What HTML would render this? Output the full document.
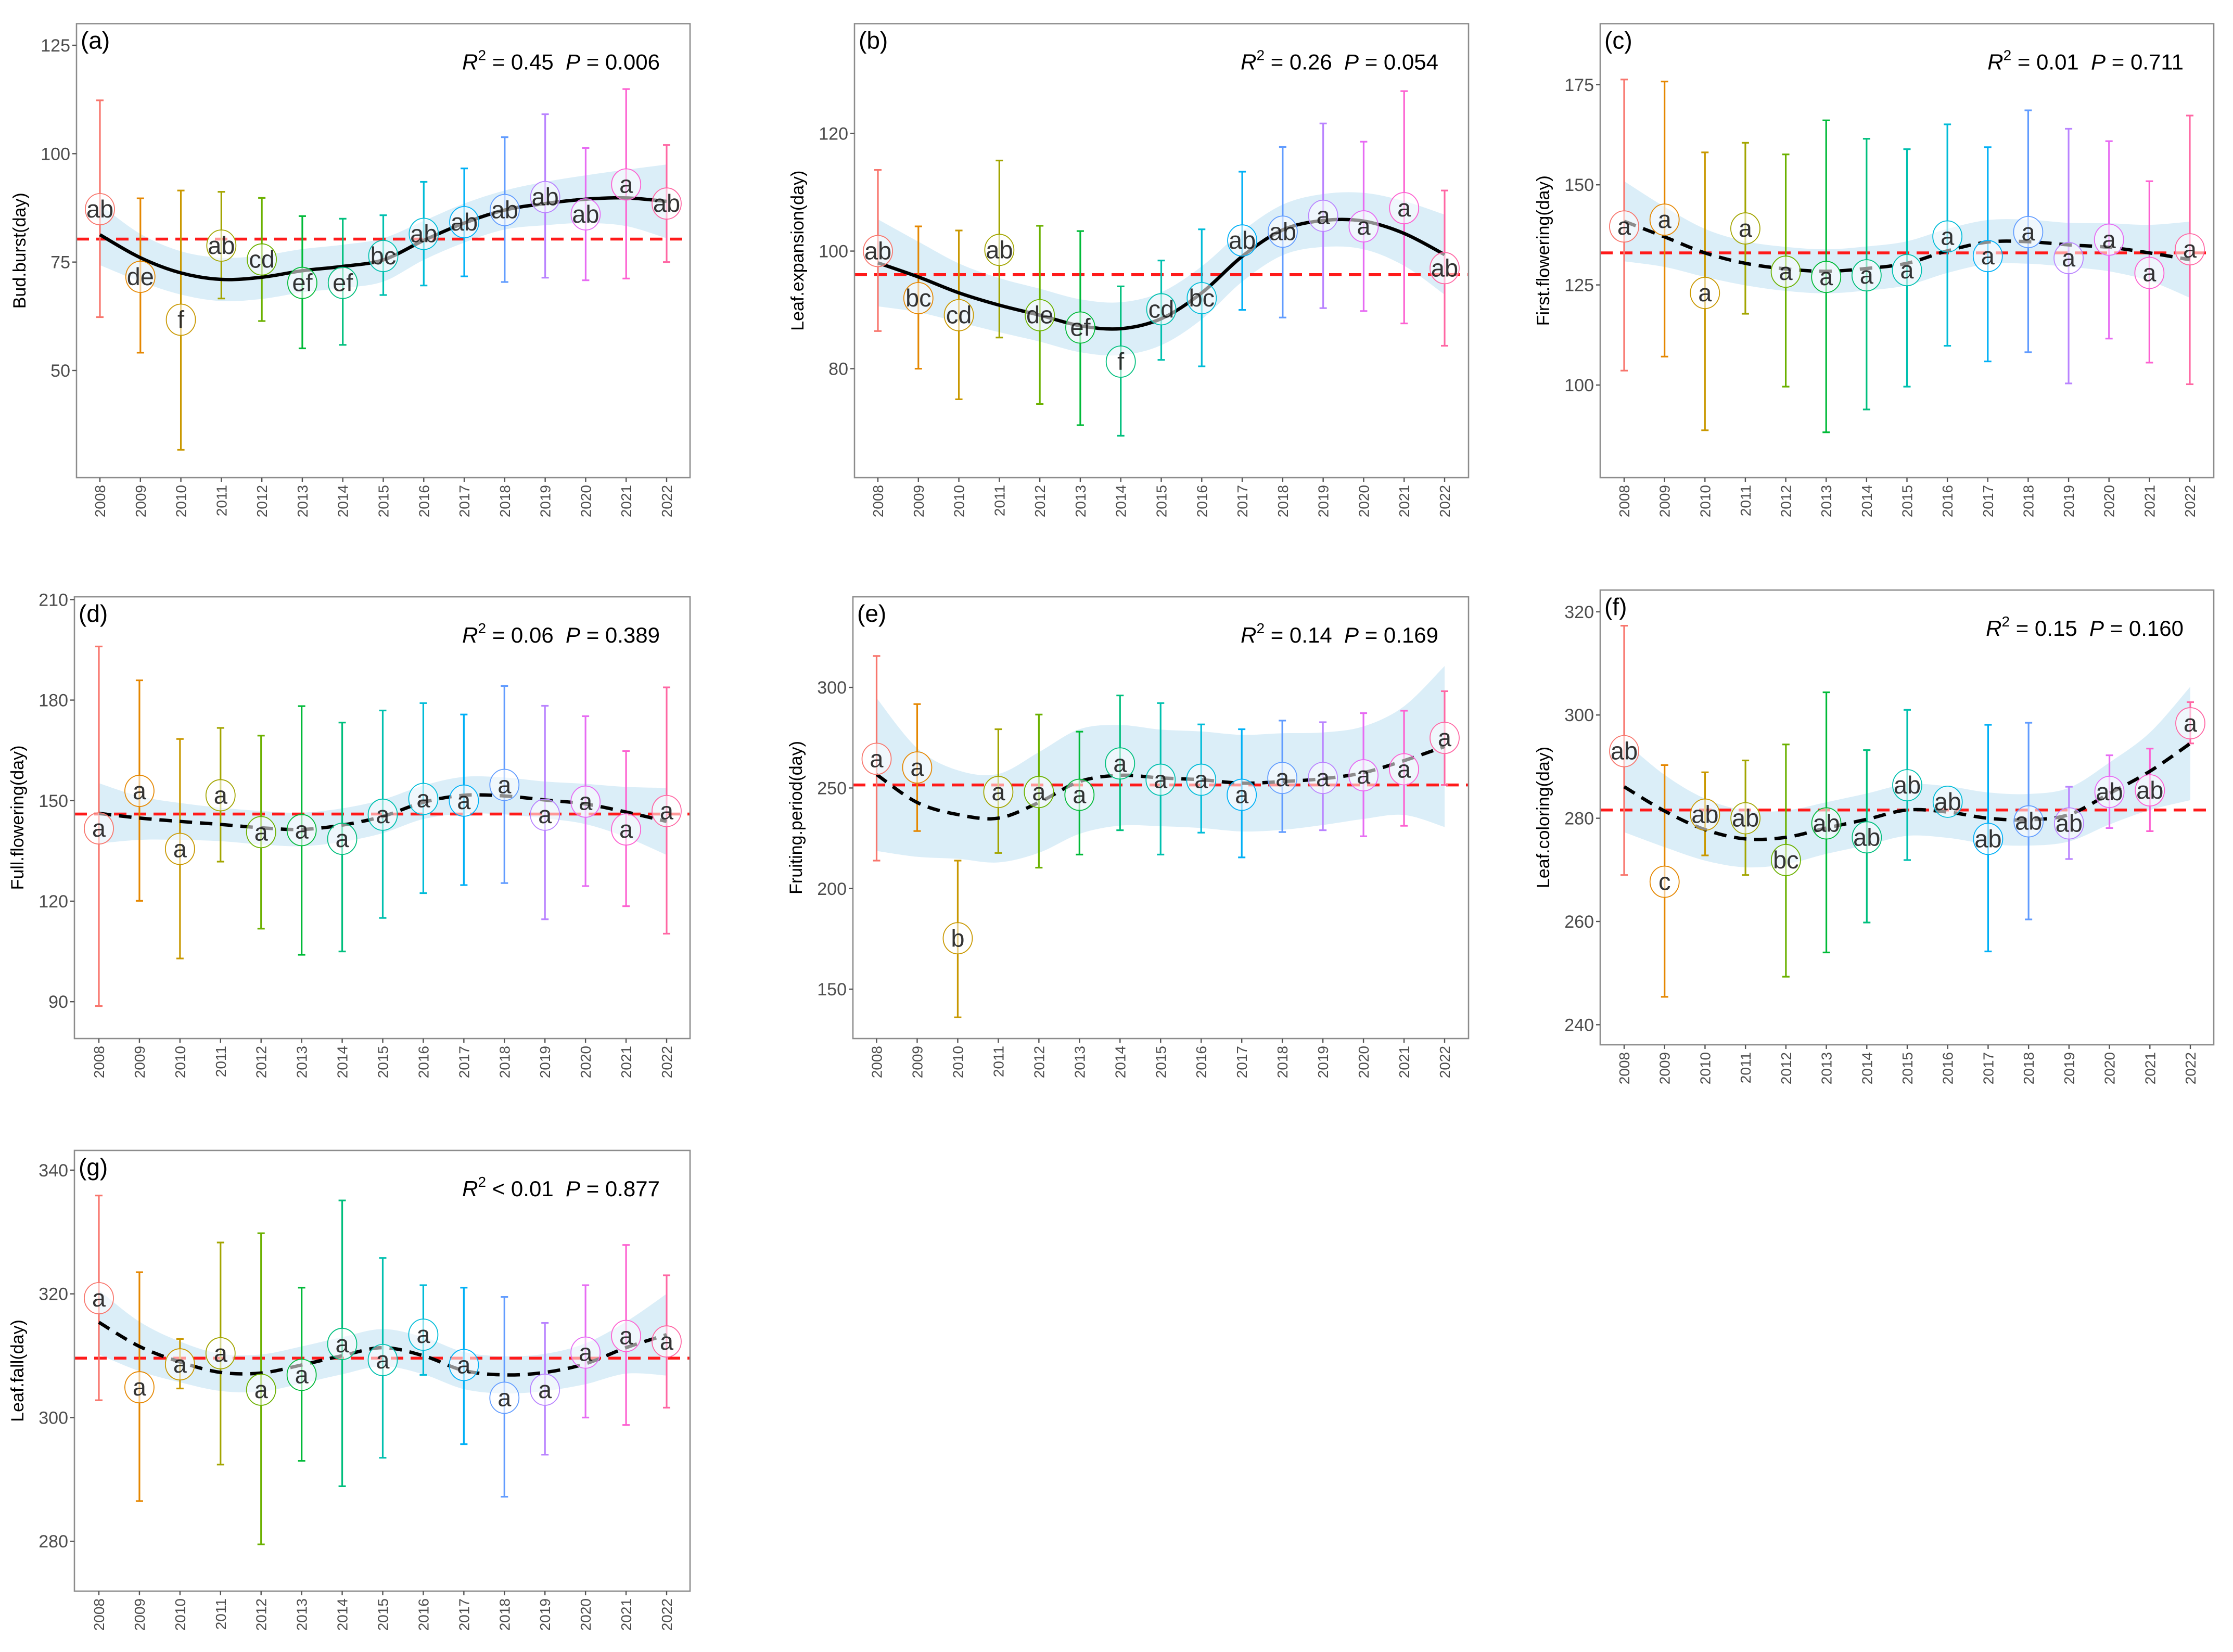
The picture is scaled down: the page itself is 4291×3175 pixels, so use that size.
<!DOCTYPE html>
<html><head><meta charset="utf-8"><style>
html,body{margin:0;padding:0;background:#fff;}
svg{display:block;}
text{font-family:"Liberation Sans",Arial,sans-serif;}
</style></head><body>
<svg id="fig" xmlns="http://www.w3.org/2000/svg" width="4291" height="3175" viewBox="0 0 4291 3175"></svg>
<script>
const years = ["2008","2009","2010","2011","2012","2013","2014","2015","2016","2017","2018","2019","2020","2021","2022"];
const yearColors = ["#F8766D","#E58700","#C99800","#A3A500","#6BB100","#00BA38","#00BF7D","#00C0AF","#00BCD8","#00B0F6","#619CFF","#B983FF","#E76BF3","#FD61D1","#FF67A4"];

// (a) Bud burst
const aMean = [87.2,71.6,61.7,78.8,75.6,70.2,70.2,76.4,81.5,84.2,87,90,86,92.9,88.5];
const aUp = [112.3,89.7,91.5,91.2,89.8,85.6,85,85.8,93.5,96.6,103.8,109.1,101.3,114.9,102];
const aLo = [62.3,54.1,31.7,66.6,61.4,55.1,55.9,67.4,69.6,71.7,70.4,71.4,70.8,71.2,75];
const aFit = [81.3,76,72.5,71,71.5,73,74,75.5,80,84,87,88.5,89.5,89.8,89];
const aBand = [7,5.5,5,5,5,5,5,5,4.5,4.5,4.5,5,5.5,6.5,8.5];
const aLetters = ["ab","de","f","ab","cd","ef","ef","bc","ab","ab","ab","ab","ab","a","ab"];
const aMeanLine = 80.3;
const aTicks = [50,75,100,125];

// (b) Leaf expansion
const bMean = [100,92,89.1,100.2,89.1,87,81.2,90.1,92,101.8,103.3,106,104.2,107.3,97.1];
const bUp = [113.8,104.2,103.5,115.4,104.3,103.4,94,98.4,103.7,113.5,117.7,121.7,118.6,127.2,110.3];
const bLo = [86.4,80,74.8,85.3,74,70.4,68.6,81.5,80.4,90,88.7,90.3,89.8,87.7,83.9];
const bFit = [98,95.6,92.9,90.8,89.1,87.3,86.8,88.5,92.9,99.1,103.6,105.2,105.1,103,99.4];
const bBand = [7.4,6,5,4.6,4.5,4.5,4.5,4.5,4.5,4.3,4.3,4.5,4.8,5.5,6.8];
const bLetters = ["ab","bc","cd","ab","de","ef","f","cd","bc","ab","ab","a","a","a","ab"];
const bMeanLine = 96;
const bTicks = [80,100,120];

// (c) First flowering
const cMean = [139.6,141.3,123,139.1,128.3,127,127.4,128.7,137.1,132.2,138.2,131.7,136.3,128,133.9];
const cUp = [176.3,175.8,158.1,160.5,157.6,166.1,161.5,158.9,165.1,159.4,168.6,164,160.9,150.9,167.3];
const cLo = [103.6,107.1,88.7,117.8,99.6,88.2,93.9,99.6,109.8,105.9,108.2,100.4,111.6,105.6,100.2];
const cFit = [140.9,137,133,130.4,129,128.4,129.1,130.4,133.5,135.7,135.8,135,134.4,133,131.3];
const cBand = [10,7.5,6,5.5,5.5,5.5,5.5,5.5,5.5,5.5,5.5,5.5,6,7,9.5];
const cLetters = ["a","a","a","a","a","a","a","a","a","a","a","a","a","a","a"];
const cMeanLine = 133;
const cTicks = [100,125,150,175];

// (d) Full flowering
const dMean = [141.7,152.9,135.6,151.6,140.6,141.2,138.6,145.8,150.5,150,154.7,145.8,149.7,141.4,146.9];
const dUp = [196,185.9,168.4,171.7,169.4,178.2,173.3,176.9,179.1,175.7,184.2,178.3,175.2,164.8,183.8];
const dLo = [88.7,120.1,102.9,131.8,111.8,104,105,115,122.4,124.8,125.4,114.6,124.5,118.5,110.3];
const dFit = [146.2,144.8,143.8,142.9,141.9,141.4,142.7,145.3,149.5,151.6,151.4,150.2,149,146.6,143.8];
const dBand = [9,6.5,5.5,5,5,5,5,5,5,5.5,5.5,5.5,6,7.5,10];
const dLetters = ["a","a","a","a","a","a","a","a","a","a","a","a","a","a","a"];
const dMeanLine = 146;
const dTicks = [90,120,150,180,210];

// (e) Fruiting period
const eMean = [264.5,260.2,175.3,248,248,246.6,262.2,254.1,254.1,246.6,255,255,256.3,259.3,274.9];
const eUp = [315.6,291.7,213.9,279.2,286.5,278,296,292.2,281.6,279.2,283.5,282.7,287.2,288.4,298.1];
const eLo = [213.9,228.6,136,217.7,210.4,216.9,229,216.9,227.8,215.5,228.1,229,226,231.2,251.5];
const eFit = [256.7,242.8,236.8,235,242.8,253.2,256.3,255,254.1,252.4,253.2,254.6,257.6,263.6,270.6];
const eBand = [38,27,22,22,25,26,25,24,24,24,24,23,23,27,40];
const eLetters = ["a","a","b","a","a","a","a","a","a","a","a","a","a","a","a"];
const eMeanLine = 251.5;
const eTicks = [150,200,250,300];

// (f) Leaf coloring
const fMean = [293,267.7,280.7,280,271.9,279,276.3,286.4,283.2,276,279.4,279,285.1,285.4,298.4];
const fUp = [317.3,290.3,288.9,291.2,294.3,304.4,293.2,301,283.2,298.1,298.5,286.1,292.2,293.5,302.5];
const fLo = [269,245.4,272.8,269,249.3,254,259.8,271.9,283.2,254.2,260.4,272.1,278.1,277.5,294.5];
const fFit = [286.1,281.4,277.8,276,276.3,278.1,279.8,281.6,281.2,280,279.7,280.7,284.8,289.1,294.5];
const fBand = [8.8,7,6,5.5,5.2,5,5,5,5,5,5,5.2,6,7.5,11];
const fLetters = ["ab","c","ab","ab","bc","ab","ab","ab","ab","ab","ab","ab","ab","ab","a"];
const fMeanLine = 281.6;
const fTicks = [240,260,280,300,320];

// (g) Leaf fall
const gMean = [319.3,304.9,308.6,310.4,304.5,306.9,311.9,309.3,313.4,308.5,303.2,304.5,310.5,313.2,312.3];
const gUp = [335.9,323.5,312.7,328.3,329.8,321,335.1,325.8,321.4,321,319.5,315.3,321.4,327.9,323];
const gLo = [302.8,286.5,304.7,292.4,279.5,293,288.9,293.5,306.9,295.7,287.2,294,300,298.8,301.6];
const gFit = [315.4,311.5,309,307.3,307.2,308.5,310,311.3,310,307.6,306.9,307.3,308.7,311.3,313.4];
const gBand = [5.2,4,3.3,3,3,3,3,3,3,3,3,3,3.3,4.2,6.6];
const gLetters = ["a","a","a","a","a","a","a","a","a","a","a","a","a","a","a"];
const gMeanLine = 309.6;
const gTicks = [280,300,320,340];

const NS = "http://www.w3.org/2000/svg";
const svg = document.getElementById('fig');
function mk(tag, attrs, parent){
  const e = document.createElementNS(NS, tag);
  for (const k in attrs) e.setAttribute(k, attrs[k]);
  (parent||svg).appendChild(e);
  return e;
}
function crPath(pts){
  let d = "M" + pts[0][0] + "," + pts[0][1];
  for (let i=0;i<pts.length-1;i++){
    const p0=pts[Math.max(0,i-1)], p1=pts[i], p2=pts[i+1], p3=pts[Math.min(pts.length-1,i+2)];
    const c1x=p1[0]+(p2[0]-p0[0])/6, c1y=p1[1]+(p2[1]-p0[1])/6;
    const c2x=p2[0]-(p3[0]-p1[0])/6, c2y=p2[1]-(p3[1]-p1[1])/6;
    d += " C"+c1x+","+c1y+" "+c2x+","+c2y+" "+p2[0]+","+p2[1];
  }
  return d;
}
function crSeg(pts){ return crPath(pts).replace(/^M[^C]*/, ""); }

const panels = [
 {id:"a",label:"(a)",title:"Bud.burst(day)",stat:["=","0.45","0.006"],fx0:147,fx1:1326,fy0:45.5,fy1:918,v1:125,p1:87,v2:50,p2:712,xA:192,xB:1281,dashed:false,
  mean:aMean,up:aUp,lo:aLo,fit:aFit,band:aBand,letters:aLetters,ml:aMeanLine,ticks:aTicks},
 {id:"b",label:"(b)",title:"Leaf.expansion(day)",stat:["=","0.26","0.054"],fx0:1642,fx1:2822,fy0:45.5,fy1:918,v1:120,p1:256.5,v2:80,p2:708.6,xA:1687,xB:2776,dashed:false,
  mean:bMean,up:bUp,lo:bLo,fit:bFit,band:bBand,letters:bLetters,ml:bMeanLine,ticks:bTicks},
 {id:"c",label:"(c)",title:"First.flowering(day)",stat:["=","0.01","0.711"],fx0:3075,fx1:4254,fy0:45.5,fy1:918,v1:175,p1:162.8,v2:100,p2:740,xA:3121,xB:4208,dashed:true,
  mean:cMean,up:cUp,lo:cLo,fit:cFit,band:cBand,letters:cLetters,ml:cMeanLine,ticks:cTicks},
 {id:"d",label:"(d)",title:"Full.flowering(day)",stat:["=","0.06","0.389"],fx0:143,fx1:1326,fy0:1147,fy1:1996,v1:210,p1:1152.3,v2:90,p2:1925.2,xA:190,xB:1281,dashed:true,
  mean:dMean,up:dUp,lo:dLo,fit:dFit,band:dBand,letters:dLetters,ml:dMeanLine,ticks:dTicks},
 {id:"e",label:"(e)",title:"Fruiting.period(day)",stat:["=","0.14","0.169"],fx0:1639,fx1:2822,fy0:1147,fy1:1996,v1:300,p1:1321.1,v2:150,p2:1901.1,xA:1684.5,xB:2776,dashed:true,
  mean:eMean,up:eUp,lo:eLo,fit:eFit,band:eBand,letters:eLetters,ml:eMeanLine,ticks:eTicks},
 {id:"f",label:"(f)",title:"Leaf.coloring(day)",stat:["=","0.15","0.160"],fx0:3075,fx1:4254,fy0:1134,fy1:2008,v1:320,p1:1175.8,v2:240,p2:1969.4,xA:3121,xB:4209,dashed:true,
  mean:fMean,up:fUp,lo:fLo,fit:fFit,band:fBand,letters:fLetters,ml:fMeanLine,ticks:fTicks},
 {id:"g",label:"(g)",title:"Leaf.fall(day)",stat:["<","0.01","0.877"],fx0:143,fx1:1326,fy0:2211,fy1:3058,v1:340,p1:2248.9,v2:280,p2:2962.2,xA:190,xB:1281,dashed:true,
  mean:gMean,up:gUp,lo:gLo,fit:gFit,band:gBand,letters:gLetters,ml:gMeanLine,ticks:gTicks}
];

panels.forEach(P=>{
  const Y = v => P.p1 + (v-P.v1)*(P.p2-P.p1)/(P.v2-P.v1);
  const X = i => P.xA + i*(P.xB-P.xA)/(years.length-1);
  const g = mk('g',{});
  
  
  const clipId='clip-'+P.id;
  const cp = mk('clipPath',{id:clipId},g);
  mk('rect',{x:P.fx0,y:P.fy0,width:P.fx1-P.fx0,height:P.fy1-P.fy0},cp);
  const plot = mk('g',{'clip-path':'url(#'+clipId+')'},g);

  const upPts = P.fit.map((v,i)=>[X(i),Y(v+P.band[i])]);
  const loPts = P.fit.map((v,i)=>[X(i),Y(v-P.band[i])]).reverse();
  const bandD = crPath(upPts) + " L"+loPts[0][0]+","+loPts[0][1] + crSeg(loPts) + " Z";
  const band = mk('path',{d:bandD,fill:"#dbeef8",stroke:"none"},plot);
  
  

  const ml = mk('line',{x1:P.fx0,x2:P.fx1,y1:Y(P.ml),y2:Y(P.ml),stroke:"#ff1a1a","stroke-width":5.5,"stroke-dasharray":"24,14"},plot);
  
  

  years.forEach((yr,i)=>{
    const col = yearColors[i];
    const eb = mk('g',{stroke:col,"stroke-width":3.2},plot);
    
    
    if (P.up[i] !== P.lo[i]) {
      mk('line',{x1:X(i),x2:X(i),y1:Y(P.up[i]),y2:Y(P.lo[i])},eb);
      mk('line',{x1:X(i)-7,x2:X(i)+7,y1:Y(P.up[i]),y2:Y(P.up[i])},eb);
      mk('line',{x1:X(i)-7,x2:X(i)+7,y1:Y(P.lo[i]),y2:Y(P.lo[i])},eb);
    }
  });

  const fitD = crPath(P.fit.map((v,i)=>[X(i),Y(v)]));
  const fl = mk('path',{d:fitD,fill:"none",stroke:"#000","stroke-width":6.5},plot);
  if (P.dashed) fl.setAttribute('stroke-dasharray','24,15');
  
  

  years.forEach((yr,i)=>{
    const lg = mk('g',{},plot);
    
    
    mk('ellipse',{cx:X(i),cy:Y(P.mean[i]),rx:28,ry:30,fill:"#fff","fill-opacity":"0.55",stroke:yearColors[i],"stroke-width":1.8},lg);
    const t = mk('text',{x:X(i),y:Y(P.mean[i])+16,"text-anchor":"middle","font-size":47,fill:"#111","fill-opacity":"0.85"},lg);
    t.textContent = P.letters[i];
  });

  const fr = mk('rect',{x:P.fx0,y:P.fy0,width:P.fx1-P.fx0,height:P.fy1-P.fy0,fill:"none",stroke:"#8c8c8c","stroke-width":2.6},g);
  
  

  P.ticks.forEach(v=>{
    mk('line',{x1:P.fx0-8,x2:P.fx0,y1:Y(v),y2:Y(v),stroke:"#555","stroke-width":2.4},g);
    const t = mk('text',{x:P.fx0-12,y:Y(v)+12,"text-anchor":"end","font-size":34,fill:"#4d4d4d"},g);
    t.textContent = v;
    
    
  });
  years.forEach((yr,i)=>{
    mk('line',{x1:X(i),x2:X(i),y1:P.fy1,y2:P.fy1+8,stroke:"#555","stroke-width":2.4},g);
    const t = mk('text',{x:0,y:0,"text-anchor":"end","font-size":28,fill:"#4d4d4d",transform:"translate("+(X(i)+10)+","+(P.fy1+14)+") rotate(-90)"},g);
    t.textContent = yr;
    
    
  });
  const yt = mk('text',{x:0,y:0,"text-anchor":"middle","font-size":34,fill:"#000",transform:"translate("+(P.fx0-98)+","+((P.fy0+P.fy1)/2)+") rotate(-90)"},g);
  yt.textContent = P.title;
  
  
  const pl = mk('text',{x:P.fx0+8,y:P.fy0+48,"font-size":46,fill:"#000"},g);
  pl.textContent = P.label;
  
  
  const st = mk('text',{x:P.fx1-58,y:P.fy0+88,"text-anchor":"end","font-size":42,fill:"#000"},g);
  
  
  const s1 = mk('tspan',{"font-style":"italic"},st); s1.textContent="R";
  const s2 = mk('tspan',{"font-size":28,dy:-18},st); s2.textContent="2";
  const s3 = mk('tspan',{dy:18},st); s3.textContent=" "+P.stat[0]+" "+P.stat[1]+"\u00a0\u00a0";
  const s4 = mk('tspan',{"font-style":"italic"},st); s4.textContent="P";
  const s5 = mk('tspan',{},st); s5.textContent=" = "+P.stat[2];
});
</script>
</body></html>
